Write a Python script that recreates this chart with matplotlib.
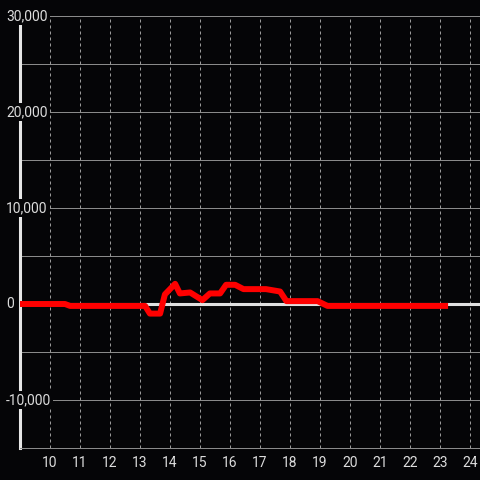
import matplotlib.pyplot as plt
from matplotlib.ticker import FuncFormatter

# hour of day vs value
hours = [9.0, 10.5, 10.67, 13.17, 13.33, 13.67, 13.83, 14.17, 14.33, 14.67,
         15.08, 15.33, 15.67, 15.87, 16.17, 16.45, 17.2, 17.67, 17.88, 18.92,
         19.25, 23.17]
values = [0, 0, -200, -200, -1000, -1000, 1000, 2100, 1100, 1200,
          400, 1100, 1100, 2000, 2000, 1550, 1550, 1300, 300, 300,
          -200, -200]

x_ticks = list(range(10, 25))
y_grid = [-10000, -5000, 0, 5000, 10000, 15000, 20000, 25000, 30000]
y_labels = [-10000, 0, 10000, 20000, 30000]

bg = '#050507'
text_col = '#dcdcdc'

plt.rcParams['font.family'] = ['Roboto', 'DejaVu Sans']

fig = plt.figure(figsize=(4.8, 4.8), dpi=100, facecolor=bg)
ax = fig.add_axes([20 / 480, 32 / 480, 460 / 480, 432 / 480], facecolor=bg)

ax.set_xlim(9, 9 + 460 / 30)
ax.set_ylim(-15000, 30000)

# grid
for yv in y_grid:
    ax.axhline(yv, color='#8a8a8a', lw=0.72, zorder=1)
for xv in x_ticks:
    ax.axvline(xv, color='#9a9a9a', lw=0.72, linestyle=(0, (3, 3)), zorder=1)

# zero line
ax.axhline(0, color='#e0e0e0', lw=2.2, zorder=2)

ax.plot(hours, values, color='#ff0000', lw=4.3, zorder=4)

for s in ['top', 'right']:
    ax.spines[s].set_visible(False)
ax.spines['left'].set_color('#e6e6e6')
ax.spines['left'].set_linewidth(2.2)
ax.spines['bottom'].set_color('#8a8a8a')
ax.spines['bottom'].set_linewidth(0.72)

ax.set_xticks(x_ticks)
ax.tick_params(axis='x', length=0, pad=6, labelcolor=text_col, labelsize=10)
ax.set_yticks([])

fmt = FuncFormatter(lambda v, p: f'{int(v):,}')
trans = ax.get_yaxis_transform()
for yv in y_labels:
    ax.text(-14 / 460, yv, fmt(yv), transform=trans, ha='left', va='center',
            color=text_col, fontsize=10, zorder=6, clip_on=False,
            bbox=dict(facecolor=bg, edgecolor='none', pad=1.5))

fig.savefig('out.png', dpi=100, facecolor=bg)
